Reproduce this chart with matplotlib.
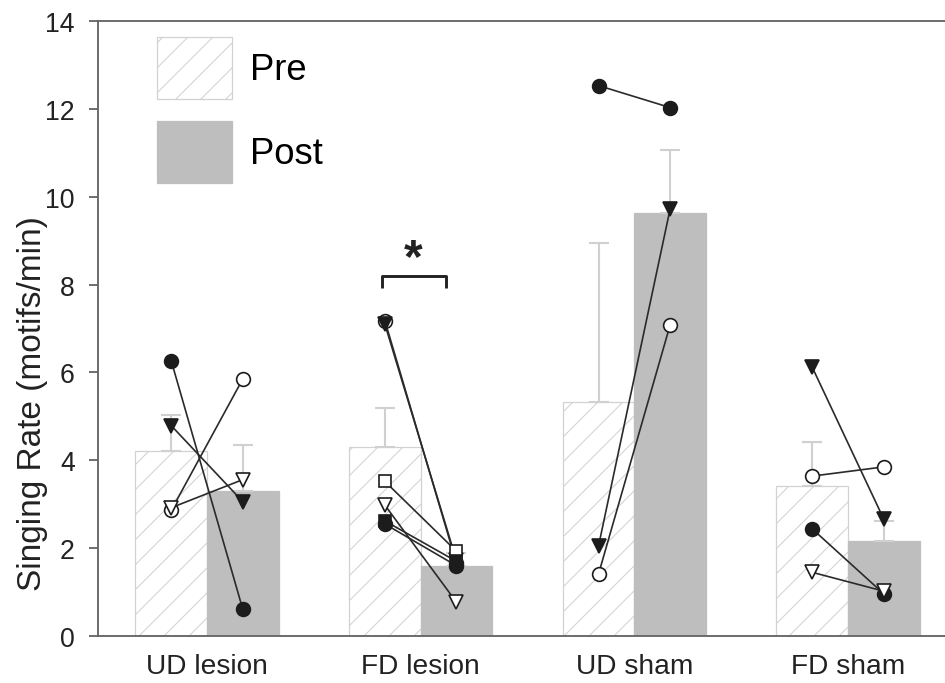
import numpy as np
import matplotlib
matplotlib.use('Agg')
import matplotlib.pyplot as plt
from matplotlib.patches import Patch

plt.rcParams['font.family'] = ['Liberation Sans', 'DejaVu Sans']
plt.rcParams['hatch.linewidth'] = 0.5

groups = ['UD lesion', 'FD lesion', 'UD sham', 'FD sham']
pre_mean = [4.22, 4.30, 5.33, 3.42]
pre_err = [0.80, 0.90, 3.62, 1.00]
post_mean = [3.29, 1.60, 9.63, 2.16]
post_err = [1.06, 0.30, 1.44, 0.45]

# individual birds: marker code per group, pre and post values
# 'fo' filled circle, 'oo' open circle, 'fv' filled triangle, 'ov' open triangle,
# 'os' open square, 'fs' filled square
bird_marks = [
    ['fo', 'oo', 'fv', 'ov'],
    ['oo', 'fv', 'os', 'ov', 'fs', 'fo'],
    ['fo', 'fv', 'oo'],
    ['fv', 'oo', 'fo', 'ov'],
]
bird_pre = [
    [6.27, 2.86, 4.79, 2.92],
    [7.18, 7.10, 3.52, 2.98, 2.62, 2.55],
    [12.53, 2.05, 1.41],
    [6.12, 3.64, 2.44, 1.45],
]
bird_post = [
    [0.61, 5.85, 3.06, 3.56],
    [1.66, 1.72, 1.93, 0.77, 1.70, 1.60],
    [12.03, 9.72, 7.08],
    [2.66, 3.85, 0.96, 1.02],
]

w = 0.335
x = np.arange(len(groups))

fig = plt.figure(figsize=(6.3, 4.56), dpi=150)
ax = fig.add_axes([0.1037, 0.0687, 0.8963, 0.8991])

ax.bar(x - w/2, pre_mean, w, facecolor='white', edgecolor='#d2d2d2',
       linewidth=0.6, hatch='//', zorder=1)
ax.bar(x + w/2, post_mean, w, facecolor='#bebebe', edgecolor='#bebebe',
       linewidth=0.6, zorder=1)
ax.errorbar(x - w/2, pre_mean, yerr=[np.zeros(4), pre_err], fmt='none',
            ecolor='#d0d0d0', elinewidth=1.0, capsize=4.8, capthick=1.0, zorder=2)
ax.errorbar(x + w/2, post_mean, yerr=[np.zeros(4), post_err], fmt='none',
            ecolor='#d0d0d0', elinewidth=1.0, capsize=4.8, capthick=1.0, zorder=2)

shape = {'o': 'o', 'v': 'v', 's': 's'}
for i in range(len(groups)):
    for m, a, b in zip(bird_marks[i], bird_pre[i], bird_post[i]):
        face = '#1c1c1c' if m[0] == 'f' else 'white'
        ax.plot([x[i] - w/2, x[i] + w/2], [a, b], color='#2a2a2a', lw=0.8,
                marker=shape[m[1]], ms=6.6 if m[1] != 's' else 5.8,
                mfc=face, mec='#1c1c1c', mew=0.8, zorder=3)

# significance bracket
ax.plot([0.82, 0.82, 1.12, 1.12], [7.93, 8.2, 8.2, 7.93], color='#222222',
        lw=1.4, solid_capstyle='butt', zorder=4)
ax.text(0.965, 8.6, '*', ha='center', va='center', fontsize=23,
        fontweight='bold', color='#222222')

ax.set_xlim(-0.51, 3.454)
ax.set_ylim(0, 14)
ax.set_yticks(np.arange(0, 15, 2))
ax.set_xticks(x)
ax.set_xticklabels(groups, fontsize=13.5, color='#222222')
ax.tick_params(axis='y', labelsize=12.8, length=4.2, width=0.8, pad=7,
               colors='#555555', labelcolor='#222222')
ax.tick_params(axis='x', length=0, pad=8)
ax.set_ylabel('Singing Rate (motifs/min)', fontsize=16, color='#222222')
ax.yaxis.set_label_coords(-0.059, 0.38)

for s in ['left', 'bottom', 'top']:
    ax.spines[s].set_color('#666666')
    ax.spines[s].set_linewidth(0.9)
ax.spines['right'].set_visible(False)

handles = [Patch(facecolor='white', edgecolor='#d2d2d2', hatch='//', linewidth=0.6),
           Patch(facecolor='#bebebe', edgecolor='#bebebe', linewidth=0.6)]
ax.legend(handles, ['Pre', 'Post'], loc='upper left',
          bbox_to_anchor=(0.0697, 0.974), frameon=False, fontsize=17.5,
          handlelength=2.06, handleheight=2.243, handletextpad=0.49,
          labelspacing=0.6, borderpad=0, borderaxespad=0)

fig.savefig('out.png', dpi=150)
